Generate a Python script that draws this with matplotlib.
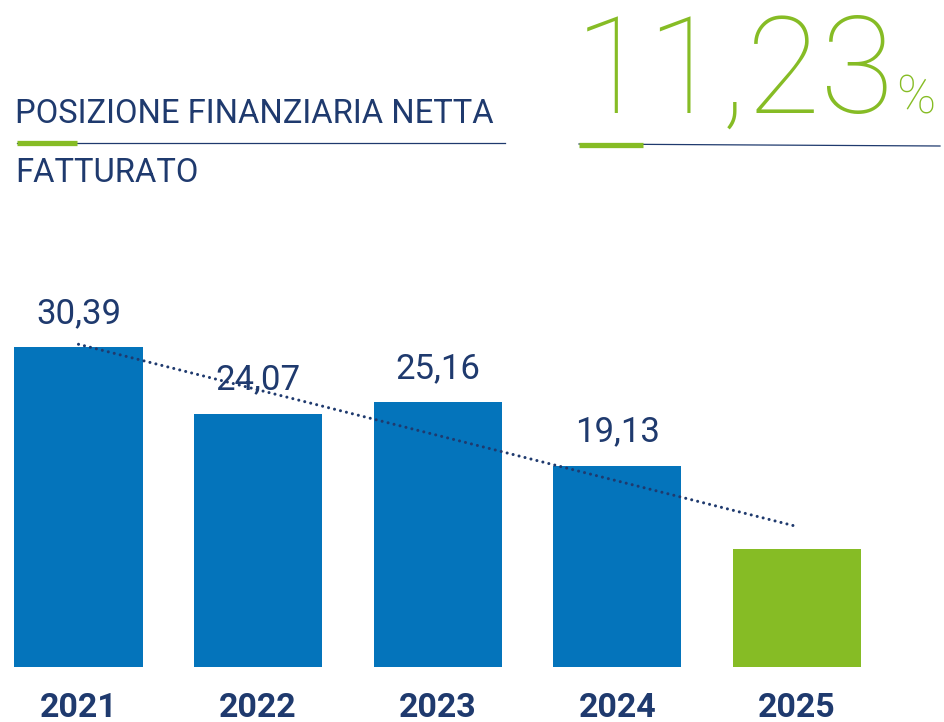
import numpy as np
import matplotlib
matplotlib.use("Agg")
import matplotlib.pyplot as plt
from matplotlib.lines import Line2D

# data
years = ["2021", "2022", "2023", "2024", "2025"]
values = [30.39, 24.07, 25.16, 19.13, 11.23]
value_labels = ["30,39", "24,07", "25,16", "19,13"]
headline = "11,23"
title_top = "POSIZIONE FINANZIARIA NETTA"
title_bottom = "FATTURATO"

BLUE = "#0474BB"
GREEN = "#86BC25"
NAVY = "#1F3A6E"

W, H = 945, 722
plt.rcParams['font.family'] = ['Roboto', 'DejaVu Sans']


def fx(px):
    return px / W


def fy(py):
    return 1 - py / H


def main():
    fig = plt.figure(figsize=(W / 100, H / 100), dpi=100)
    ax = fig.add_axes([0, 0, 1, 1])
    ax.set_xlim((0 - 78.5) / 179.6, (W - 78.5) / 179.6)
    ax.set_ylim((667 - H) / 10.53, 667 / 10.53)
    ax.axis("off")

    x = np.arange(len(years))
    colors = [BLUE] * (len(years) - 1) + [GREEN]
    ax.bar(x, values, width=0.713, color=colors, zorder=2)

    # linear trend over all years, drawn as round dots
    k, b = np.polyfit(x, values, 1)
    ax.plot(x[[0, -1]], k * x[[0, -1]] + b, linestyle=(0, (0.01, 2.0)),
            color=NAVY, lw=2.2, dash_capstyle="round", zorder=3)

    for xi, v, lab in zip(x, values, value_labels):
        ax.text(xi, v + 2.3, lab, ha="center", va="baseline", fontsize=25,
                color=NAVY, zorder=4)

    for xi, yr in zip(x, years):
        ax.text(xi, -4.72, yr, ha="center", va="baseline", fontsize=24.5,
                fontweight="bold", color=NAVY)

    # header
    fig.text(fx(15), fy(123), title_top, fontsize=23.6, color=NAVY,
             ha="left", va="baseline")
    fig.text(fx(15), fy(182), title_bottom, fontsize=23.6, color=NAVY,
             ha="left", va="baseline")
    fig.add_artist(Line2D([fx(17), fx(505)], [fy(142.5), fy(142.5)],
                          color=NAVY, lw=0.9))
    fig.add_artist(Line2D([fx(17), fx(77)], [fy(142.5), fy(142.5)],
                          color=GREEN, lw=3.8, solid_capstyle="butt"))

    fig.text(fx(575), fy(113), headline, fontsize=97, fontweight="light",
             color=GREEN, ha="left", va="baseline")
    fig.text(fx(896), fy(113), "%", fontsize=38, fontweight="light",
             color=GREEN, ha="left", va="baseline")
    fig.add_artist(Line2D([fx(579), fx(940)], [fy(144), fy(146)],
                          color=NAVY, lw=0.9))
    fig.add_artist(Line2D([fx(579), fx(643)], [fy(144.5), fy(144.5)],
                          color=GREEN, lw=3.8, solid_capstyle="butt"))

    fig.savefig("out.png", dpi=100, facecolor="white")


if __name__ == "__main__":
    main()
